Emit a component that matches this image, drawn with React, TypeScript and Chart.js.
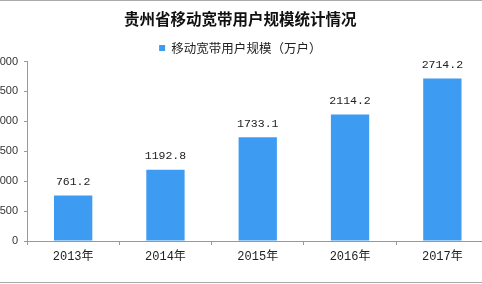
import React, { useEffect, useRef } from "react";
import { Chart, registerables } from "chart.js";

Chart.register(...registerables);

const categories = ["2013年", "2014年", "2015年", "2016年", "2017年"];
const values = [761.2, 1192.8, 1733.1, 2114.2, 2714.2];
const seriesName = "移动宽带用户规模（万户）";
const titleText = "贵州省移动宽带用户规模统计情况";
const yMax = 3000;
const yStep = 500;

const valueLabels = {
  id: "valueLabels",
  afterDatasetsDraw(chart: any) {
    const ctx = chart.ctx;
    const meta = chart.getDatasetMeta(0);
    ctx.save();
    ctx.font = "11.5px 'Liberation Mono', monospace";
    ctx.fillStyle = "#222";
    ctx.textAlign = "center";
    ctx.textBaseline = "bottom";
    meta.data.forEach((bar: any, i: number) => {
      const v = chart.data.datasets[0].data[i];
      ctx.fillText(v.toFixed(1), bar.x, bar.y - 8);
    });
    ctx.restore();
  },
};

export default function App() {
  const ref = useRef<HTMLCanvasElement>(null);
  useEffect(() => {
    const chart = new Chart(ref.current!, {
      type: "bar",
      data: {
        labels: categories,
        datasets: [
          {
            label: seriesName,
            data: values,
            backgroundColor: "#3d9cf1",
            borderWidth: 0,
            categoryPercentage: 1,
            barPercentage: 0.415,
          },
        ],
      },
      options: {
        responsive: false,
        animation: false,
        devicePixelRatio: 1,
        layout: { padding: { left: 0, right: 1.5, top: 0, bottom: 0 } },
        plugins: {
          title: {
            display: true,
            text: titleText,
            color: "#111",
            font: { family: "'Noto Sans CJK SC'", size: 15.5, weight: "bold", lineHeight: 1.2 },
            padding: { top: 10, bottom: 9.15 },
          },
          legend: {
            display: true,
            maxHeight: 23.75,
            labels: {
              boxWidth: 6,
              boxHeight: 6,
              color: "#222",
              padding: 4,
              font: { family: "'Noto Sans CJK SC'", size: 12.5 },
            },
          },
          tooltip: { enabled: false },
        },
        scales: {
          x: {
            grid: { drawOnChartArea: false, drawTicks: true, tickLength: 4, color: "#999", offset: true },
            border: { display: true, color: "#999" },
            ticks: {
              color: "#222",
              padding: 5,
              font: { family: "'Liberation Mono', 'Noto Sans CJK SC'", size: 12 },
            },
            afterFit(scale: any) {
              scale.height = 43;
            },
          },
          y: {
            min: 0,
            max: yMax,
            ticks: {
              stepSize: yStep,
              color: "#333",
              padding: 6,
              font: { family: "'Liberation Sans', Arial", size: 11 },
              callback: (v: any) => String(v),
            },
            grid: { drawOnChartArea: false, drawTicks: true, tickLength: 3, color: "#999" },
            border: { display: true, color: "#999" },
            afterFit(scale: any) {
              scale.width = 35;
            },
          },
        },
      },
      plugins: [valueLabels],
    });
    return () => chart.destroy();
  }, []);

  return (
    <div
      style={{
        position: "fixed",
        left: 0,
        top: 0,
        width: 482,
        height: 284,
        overflow: "hidden",
        background: "#fff",
      }}
    >
      <div style={{ position: "absolute", left: -8, top: 0 }}>
        <canvas ref={ref} width={498} height={284} style={{ display: "block" }} />
      </div>
      <div style={{ position: "absolute", left: 0, top: 0, width: 482, height: 1, background: "#aaa" }} />
      <div style={{ position: "absolute", left: 0, top: 282, width: 482, height: 1, background: "#aaa" }} />
    </div>
  );
}
